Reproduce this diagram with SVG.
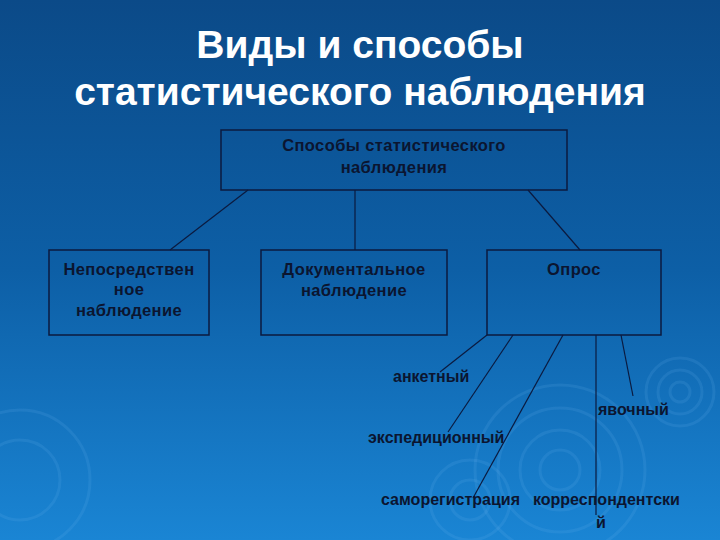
<svg xmlns="http://www.w3.org/2000/svg" width="720" height="540" viewBox="0 0 720 540">
<defs>
<linearGradient id="bg" x1="0" y1="0" x2="0" y2="1">
<stop offset="0" stop-color="#0b4a88"/>
<stop offset="0.5" stop-color="#0d5fa6"/>
<stop offset="1" stop-color="#1a85d4"/>
</linearGradient>
<style>
.title{font-family:"Liberation Sans",Arial,sans-serif;font-weight:bold;font-size:39px;fill:#ffffff;text-anchor:middle}
.box{fill:none;stroke:#0b1a3f;stroke-width:1.5}
.nt{font-family:"Liberation Sans",Arial,sans-serif;font-weight:bold;font-size:16.5px;letter-spacing:0.4px;fill:#0b1530;text-anchor:middle}
.lt{font-family:"Liberation Sans",Arial,sans-serif;font-weight:bold;font-size:16px;fill:#0b1530}
.con line{stroke:#0b1a3f;stroke-width:1.2}
.rip{fill:none;stroke:#6fb6ee;stroke-opacity:0.14;stroke-width:3}
</style>
</defs>
<rect width="720" height="540" fill="url(#bg)"/>
<g id="ripples">
<circle class="rip" cx="560" cy="470" r="20"/>
<circle class="rip" cx="560" cy="470" r="40"/>
<circle class="rip" cx="560" cy="470" r="62"/>
<circle class="rip" cx="560" cy="470" r="85"/>
<circle class="rip" cx="680" cy="392" r="10"/>
<circle class="rip" cx="680" cy="392" r="22"/>
<circle class="rip" cx="680" cy="392" r="34"/>
<circle class="rip" cx="470" cy="500" r="20"/>
<circle class="rip" cx="470" cy="500" r="40"/>
<circle class="rip" cx="20" cy="480" r="40"/>
<circle class="rip" cx="20" cy="480" r="70"/>
</g>
<g id="title">
<text class="title" x="360" y="58">Виды и способы</text>
<text class="title" x="360" y="105">статистического наблюдения</text>
</g>
<g id="connectors" class="con">
<line x1="248" y1="190" x2="170" y2="250"/>
<line x1="355" y1="190" x2="355" y2="250"/>
<line x1="528" y1="190" x2="580" y2="250"/>
<line x1="487" y1="335" x2="440" y2="372"/>
<line x1="513" y1="335" x2="448" y2="432"/>
<line x1="563" y1="335" x2="473" y2="498"/>
<line x1="596" y1="335" x2="596" y2="515"/>
<line x1="621" y1="335" x2="633" y2="396"/>
</g>
<g id="node-root">
<rect class="box" x="221" y="130" width="346" height="60"/>
<text class="nt" x="394" y="151">Способы статистического</text>
<text class="nt" x="394" y="173">наблюдения</text>
</g>
<g id="node-direct">
<rect class="box" x="49" y="250" width="160" height="85"/>
<text class="nt" x="129" y="275">Непосредствен</text>
<text class="nt" x="129" y="295">ное</text>
<text class="nt" x="129" y="316">наблюдение</text>
</g>
<g id="node-doc">
<rect class="box" x="261" y="250" width="186" height="85"/>
<text class="nt" x="354" y="275">Документальное</text>
<text class="nt" x="354" y="296">наблюдение</text>
</g>
<g id="node-survey">
<rect class="box" x="487" y="250" width="174" height="85"/>
<text class="nt" x="574" y="275">Опрос</text>
</g>
<g id="leaf-anketny"><text class="lt" x="393" y="382">анкетный</text></g>
<g id="leaf-yavochny"><text class="lt" x="598" y="415">явочный</text></g>
<g id="leaf-exped"><text class="lt" x="368" y="443">экспедиционный</text></g>
<g id="leaf-samoreg"><text class="lt" x="381" y="505">саморегистрация</text></g>
<g id="leaf-corr">
<text class="lt" x="533" y="505">корреспондентски</text>
<text class="lt" x="596" y="528">й</text>
</g>
</svg>
